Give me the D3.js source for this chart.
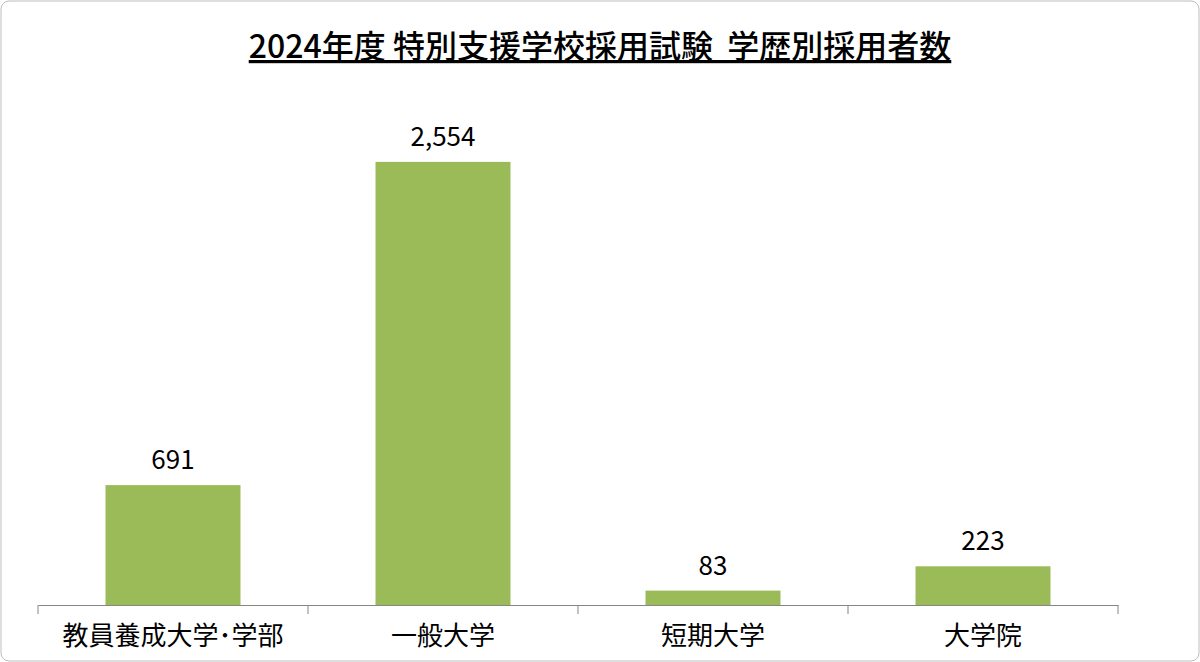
<!DOCTYPE html>
<html><head><meta charset="utf-8">
<script src="https://cdn.jsdelivr.net/npm/d3@7"></script>
<style>body{margin:0;background:#fff}</style>
</head><body>
<script>
const categories = ['教員養成大学･学部', '一般大学', '短期大学', '大学院']
const values = [691, 2554, 83, 223]
const title = '2024年度 特別支援学校採用試験  学歴別採用者数'

const w = 1200, h = 662
const font = '"Noto Sans CJK JP", sans-serif'
const svg = d3.select('body').append('svg').attr('width', w).attr('height', h)

svg.append('rect').attr('x', 1).attr('y', 1).attr('width', w - 2).attr('height', h - 2)
	.attr('rx', 8).attr('fill', '#fff').attr('stroke', '#bdbdbd')

const x = d3.scaleBand().domain(categories).range([38, 1118]).paddingInner(0.5).paddingOuter(0.25)
const y = d3.scaleLinear().domain([0, 3000]).range([605, 84.5])

svg.selectAll('rect.bar').data(values).enter().append('rect')
	.attr('class', 'bar')
	.attr('x', (d, i) => x(categories[i]))
	.attr('width', x.bandwidth())
	.attr('y', d => y(d))
	.attr('height', d => y(0) - y(d))
	.attr('fill', '#9bbb59')

svg.selectAll('text.val').data(values).enter().append('text')
	.attr('x', (d, i) => x(categories[i]) + x.bandwidth() / 2)
	.attr('y', d => y(d) - 16)
	.attr('text-anchor', 'middle').attr('font-family', font).attr('font-size', 26)
	.text(d => d3.format(',')(d))

const xAxis = d3.axisBottom(x).tickSize(0).tickPadding(22)
const g = svg.append('g').attr('transform', 'translate(0,605)').call(xAxis)
g.select('.domain').attr('stroke', '#868686')
g.selectAll('text').attr('font-family', font).attr('font-size', 26).attr('fill', '#000')

svg.selectAll('line.tk').data(d3.range(categories.length + 1)).enter().append('line')
	.attr('x1', i => 38 + i * 270).attr('x2', i => 38 + i * 270)
	.attr('y1', 605).attr('y2', 614).attr('stroke', '#868686')

svg.append('text').attr('x', 600).attr('y', 58).attr('text-anchor', 'middle')
	.attr('font-family', font).attr('font-size', 32).attr('font-weight', 500)
	.attr('text-decoration', 'underline')
	.style('white-space', 'pre').text(title)
</script>
</body></html>
